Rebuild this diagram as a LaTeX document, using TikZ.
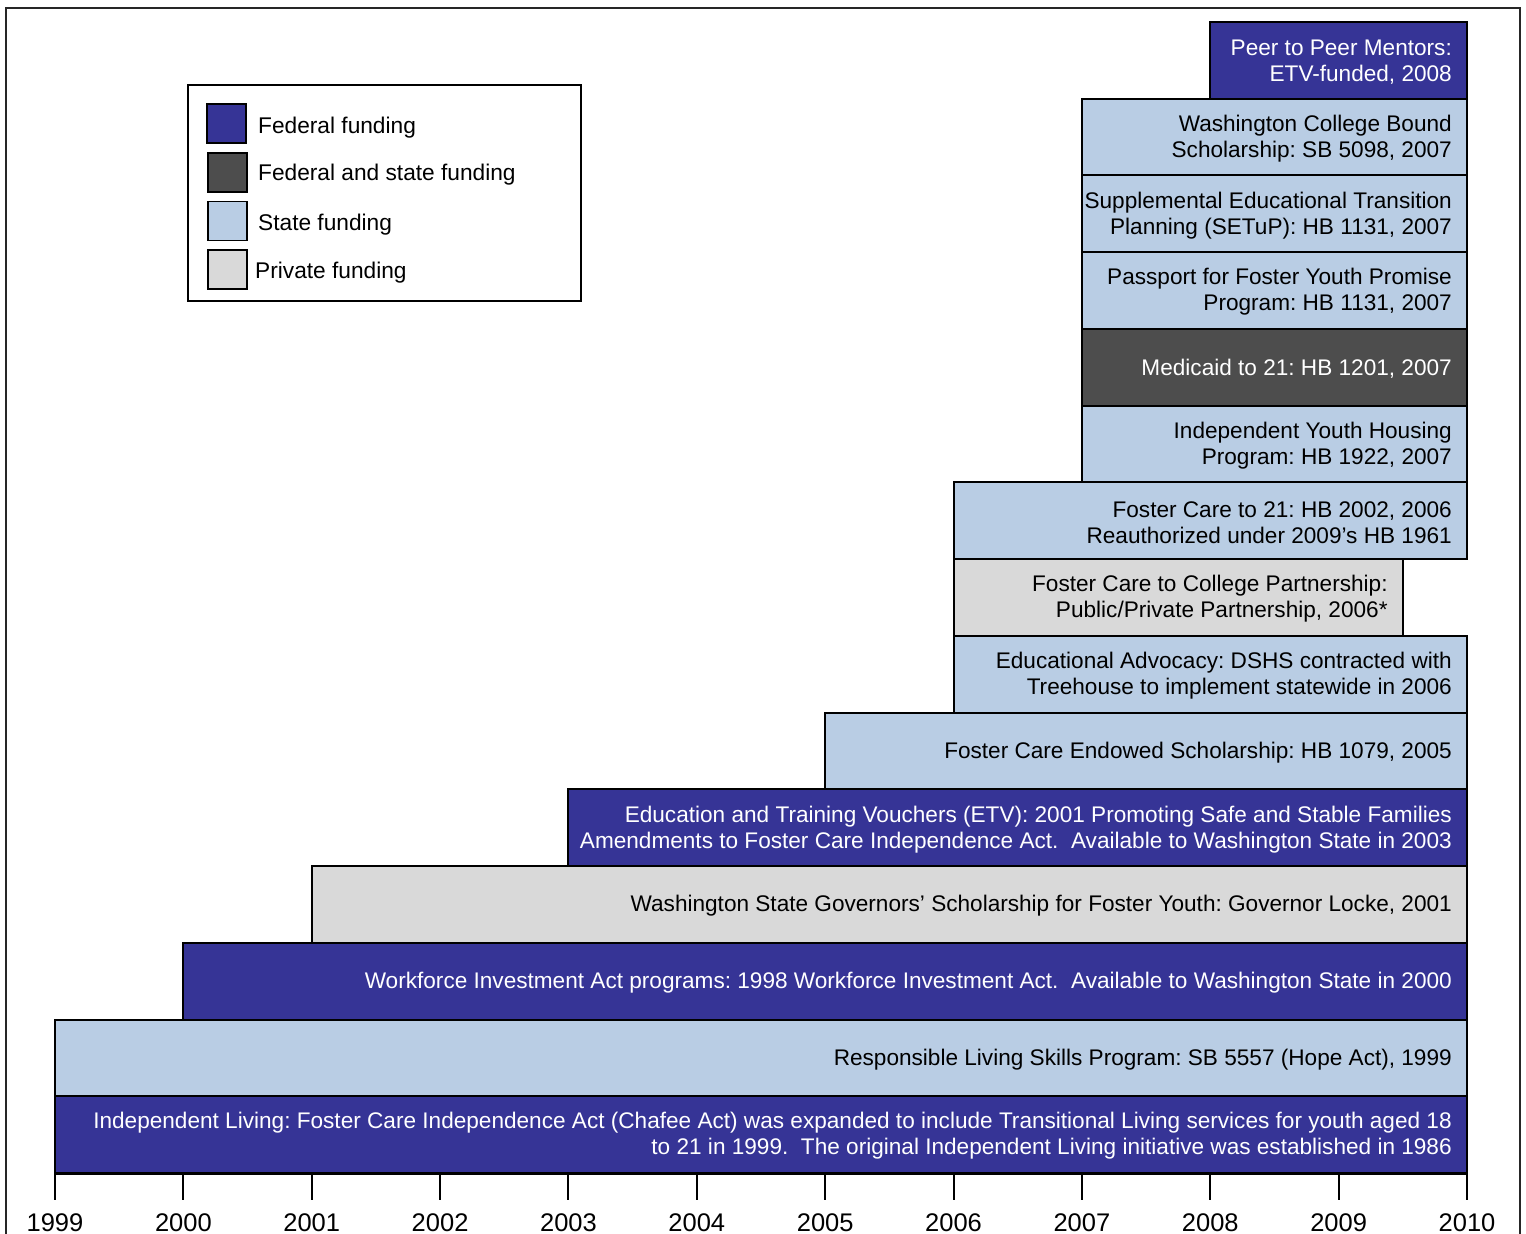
\documentclass[tikz,border=0pt]{standalone}
\usepackage{fontspec}
\setmainfont{Liberation Sans}
\definecolor{fed}{RGB}{54,52,150}
\definecolor{stt}{RGB}{185,205,228}
\definecolor{both}{RGB}{77,77,77}
\definecolor{priv}{RGB}{217,217,217}
\newcommand{\fcbar}[6]{%
  \pgfmathsetmacro{\bw}{#4-#3}%
  \pgfmathsetmacro{\cy}{22+76.73*(#2+0.5)}%
  \pgfmathsetmacro{\cx}{(#3+#4)/2}%
  \node[bar,#5,minimum width=\bw pt] (#1) at (\cx,\cy) {};
  \node[bartext,#5] (#1t) at ([xshift=-16pt,yshift=-1.5pt]#1.east) {#6};}
\begin{document}
\frenchspacing
\begin{tikzpicture}[x=1pt,y=-1pt,
  bar/.style={draw=black, line width=2pt, minimum height=76.73pt, inner sep=0pt},
  bartext/.style={anchor=east, fill=none, draw=none, inner sep=0pt, align=right, font=\fontsize{22.6}{26}\selectfont},
  fedb/.style={fill=fed, text=white},
  sttb/.style={fill=stt, text=black},
  bothb/.style={fill=both, text=white},
  privb/.style={fill=priv, text=black},
  swatch/.style={draw=black, line width=1.5pt, minimum width=39pt, minimum height=39pt, inner sep=0pt},
  legtext/.style={anchor=west, inner sep=0pt, font=\fontsize{22.7}{26}\selectfont},
  yearlab/.style={inner sep=0pt, font=\fontsize{25.5}{30}\selectfont},
  tick/.style={line width=2pt}]
\useasboundingbox (0,0) rectangle (1526,1234);
% outer frame
\draw[line width=2.5pt, draw=black!85] (6,1240) -- (6,8) -- (1520,8) -- (1520,1240);
% legend
\node[draw=black, line width=1.5pt, minimum width=393pt, minimum height=216pt, inner sep=0pt] (legend) at (384.5,193) {};
\node[swatch, fill=fed] (sw1) at (226.5,123.5) {};
\node[swatch, fill=both] (sw2) at (227.5,172.5) {};
\node[swatch, fill=stt] (sw3) at (227.5,221) {};
\node[swatch, fill=priv] (sw4) at (227.5,269.5) {};
\node[legtext] (lt1) at (258,128) {Federal funding};
\node[legtext] (lt2) at (258,175) {Federal and state funding};
\node[legtext] (lt3) at (258,225) {State funding};
\node[legtext] (lt4) at (255,273) {Private funding};
% bars
\fcbar{b1}{0}{1210.2}{1467}{fedb}{Peer to Peer Mentors:\\ETV-funded, 2008}
\fcbar{b2}{1}{1081.9}{1467}{sttb}{Washington College Bound\\Scholarship: SB 5098, 2007}
\fcbar{b3}{2}{1081.9}{1467}{sttb}{Supplemental Educational Transition\\Planning (SETuP): HB 1131, 2007}
\fcbar{b4}{3}{1081.9}{1467}{sttb}{Passport for Foster Youth Promise\\Program: HB 1131, 2007}
\fcbar{b5}{4}{1081.9}{1467}{bothb}{Medicaid to 21: HB 1201, 2007}
\fcbar{b6}{5}{1081.9}{1467}{sttb}{Independent Youth Housing\\Program: HB 1922, 2007}
\fcbar{b7}{6}{953.5}{1467}{sttb}{Foster Care to 21: HB 2002, 2006\\Reauthorized under 2009’s HB 1961}
\fcbar{b8}{7}{953.5}{1402.8}{privb}{Foster Care to College Partnership:\\Public/Private Partnership, 2006*}
\fcbar{b9}{8}{953.5}{1467}{sttb}{Educational Advocacy: DSHS contracted with\\Treehouse to implement statewide in 2006}
\fcbar{b10}{9}{825.2}{1467}{sttb}{Foster Care Endowed Scholarship: HB 1079, 2005}
\fcbar{b11}{10}{568.4}{1467}{fedb}{Education and Training Vouchers (ETV): 2001 Promoting Safe and Stable Families\\Amendments to Foster Care Independence Act.\ \ Available to Washington State in 2003}
\fcbar{b12}{11}{311.7}{1467}{privb}{Washington State Governors’ Scholarship for Foster Youth: Governor Locke, 2001}
\fcbar{b13}{12}{183.4}{1467}{fedb}{Workforce Investment Act programs: 1998 Workforce Investment Act.\ \ Available to Washington State in 2000}
\fcbar{b14}{13}{55}{1467}{sttb}{Responsible Living Skills Program: SB 5557 (Hope Act), 1999}
\fcbar{b15}{14}{55}{1467}{fedb}{Independent Living: Foster Care Independence Act (Chafee Act) was expanded to include Transitional Living services for youth aged 18\\to 21 in 1999.\ \ The original Independent Living initiative was established in 1986}
% axis
\draw[tick] (b15.south west) -- (b15.south east);
\foreach \yr [count=\i from 0] in {1999,...,2010} {
  \pgfmathsetmacro{\tx}{55+128.364*\i}
  \coordinate (t\yr) at (\tx,1173);
  \node[yearlab] (y\yr) at (\tx,1222.5) {\yr};
  \draw[tick] (t\yr) -- ++(0,27);
}
\end{tikzpicture}
\end{document}
